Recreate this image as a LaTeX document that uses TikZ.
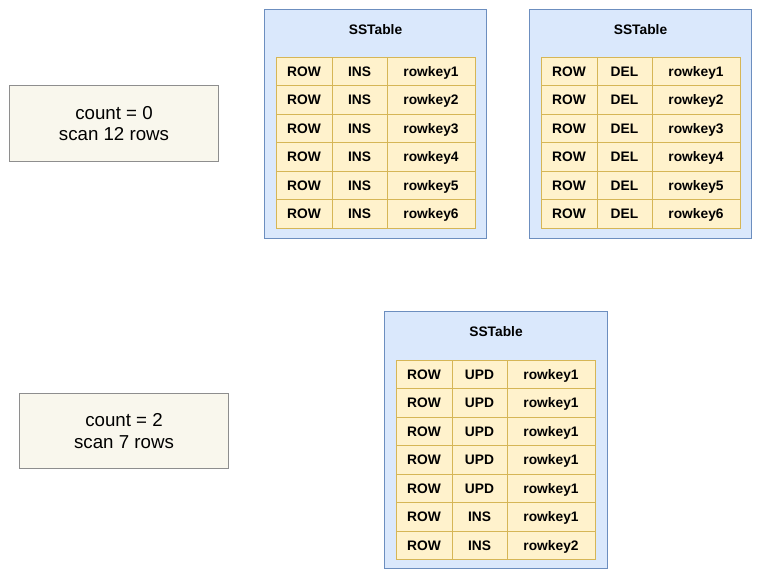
\documentclass[tikz,border=0pt]{standalone}
\usepackage{fontspec}
\setmainfont{Liberation Sans}
\definecolor{sstfill}{HTML}{DAE8FC}
\definecolor{sstline}{HTML}{6C8EBF}
\definecolor{cellfill}{HTML}{FFF2CC}
\definecolor{cellline}{HTML}{D6B656}
\definecolor{countfill}{HTML}{F9F7ED}
\definecolor{countline}{HTML}{8E8E8E}

\begin{document}
\begin{tikzpicture}[x=0.025cm,y=-0.025cm,
sstable/.style={rectangle,draw=sstline,fill=sstfill,line width=0.7pt,minimum width=5.55cm,inner sep=0pt},
title/.style={font=\bfseries\fontsize{9.8}{11}\selectfont,inner sep=0pt},
cellbox/.style={rectangle,draw=cellline,fill=cellfill,line width=0.7pt,minimum height=0.7125cm,inner sep=0pt,text height=8.4pt,text depth=1.5pt,font=\bfseries\fontsize{9.8}{11}\selectfont},
kind/.style={cellbox,minimum width=1.4cm},
op/.style={cellbox,minimum width=1.375cm},
key/.style={cellbox,minimum width=2.2cm},
count/.style={rectangle,draw=countline,fill=countfill,line width=0.7pt,minimum width=5.2cm,minimum height=1.89cm,align=center,font=\fontsize{13.3}{15.4}\selectfont}]
\useasboundingbox (0,0) rectangle (761,579);
\coordinate (T1) at (375.5,124);
\coordinate (T2) at (640.5,124);
\coordinate (T3) at (496,440);
% scan counts
\node[count] (c1) at (114,123.5) {count = 0\\scan 12 rows};
\node[count] (c2) at (124,431) {count = 2\\scan 7 rows};
% first sstable
\node[sstable,minimum height=5.7cm] (t1) at (T1) {};
\node[title] (t1name) at (375.5,30) {SSTable};
\node[kind] (t1a1) at (304,71.25) {ROW}; \node[op] (t1b1) at (359.5,71.25) {INS}; \node[key] (t1c1) at (431,71.25) {rowkey1};
\node[kind] (t1a2) at (304,99.75) {ROW}; \node[op] (t1b2) at (359.5,99.75) {INS}; \node[key] (t1c2) at (431,99.75) {rowkey2};
\node[kind] (t1a3) at (304,128.25) {ROW}; \node[op] (t1b3) at (359.5,128.25) {INS}; \node[key] (t1c3) at (431,128.25) {rowkey3};
\node[kind] (t1a4) at (304,156.75) {ROW}; \node[op] (t1b4) at (359.5,156.75) {INS}; \node[key] (t1c4) at (431,156.75) {rowkey4};
\node[kind] (t1a5) at (304,185.25) {ROW}; \node[op] (t1b5) at (359.5,185.25) {INS}; \node[key] (t1c5) at (431,185.25) {rowkey5};
\node[kind] (t1a6) at (304,213.75) {ROW}; \node[op] (t1b6) at (359.5,213.75) {INS}; \node[key] (t1c6) at (431,213.75) {rowkey6};
% second sstable
\node[sstable,minimum height=5.7cm] (t2) at (T2) {};
\node[title] (t2name) at (640.5,30) {SSTable};
\node[kind] (t2a1) at (569,71.25) {ROW}; \node[op] (t2b1) at (624.5,71.25) {DEL}; \node[key] (t2c1) at (696,71.25) {rowkey1};
\node[kind] (t2a2) at (569,99.75) {ROW}; \node[op] (t2b2) at (624.5,99.75) {DEL}; \node[key] (t2c2) at (696,99.75) {rowkey2};
\node[kind] (t2a3) at (569,128.25) {ROW}; \node[op] (t2b3) at (624.5,128.25) {DEL}; \node[key] (t2c3) at (696,128.25) {rowkey3};
\node[kind] (t2a4) at (569,156.75) {ROW}; \node[op] (t2b4) at (624.5,156.75) {DEL}; \node[key] (t2c4) at (696,156.75) {rowkey4};
\node[kind] (t2a5) at (569,185.25) {ROW}; \node[op] (t2b5) at (624.5,185.25) {DEL}; \node[key] (t2c5) at (696,185.25) {rowkey5};
\node[kind] (t2a6) at (569,213.75) {ROW}; \node[op] (t2b6) at (624.5,213.75) {DEL}; \node[key] (t2c6) at (696,213.75) {rowkey6};
% compacted sstable
\node[sstable,minimum height=6.4cm] (t3) at (T3) {};
\node[title] (t3name) at (496,332) {SSTable};
\node[kind] (t3a1) at (424,374.25) {ROW}; \node[op] (t3b1) at (479.5,374.25) {UPD}; \node[key] (t3c1) at (551,374.25) {rowkey1};
\node[kind] (t3a2) at (424,402.75) {ROW}; \node[op] (t3b2) at (479.5,402.75) {UPD}; \node[key] (t3c2) at (551,402.75) {rowkey1};
\node[kind] (t3a3) at (424,431.25) {ROW}; \node[op] (t3b3) at (479.5,431.25) {UPD}; \node[key] (t3c3) at (551,431.25) {rowkey1};
\node[kind] (t3a4) at (424,459.75) {ROW}; \node[op] (t3b4) at (479.5,459.75) {UPD}; \node[key] (t3c4) at (551,459.75) {rowkey1};
\node[kind] (t3a5) at (424,488.25) {ROW}; \node[op] (t3b5) at (479.5,488.25) {UPD}; \node[key] (t3c5) at (551,488.25) {rowkey1};
\node[kind] (t3a6) at (424,516.75) {ROW}; \node[op] (t3b6) at (479.5,516.75) {INS}; \node[key] (t3c6) at (551,516.75) {rowkey1};
\node[kind] (t3a7) at (424,545.25) {ROW}; \node[op] (t3b7) at (479.5,545.25) {INS}; \node[key] (t3c7) at (551,545.25) {rowkey2};
\end{tikzpicture}
\end{document}
